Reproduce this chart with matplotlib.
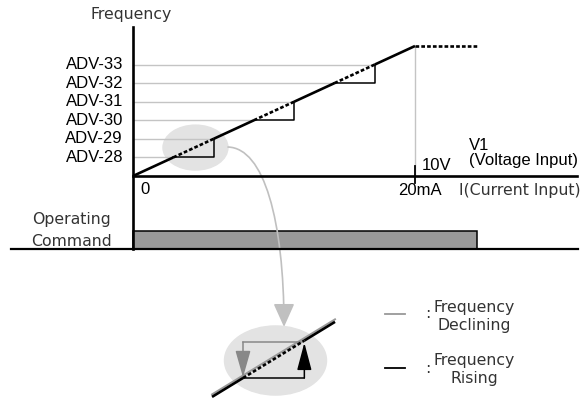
import matplotlib.pyplot as plt
from matplotlib.patches import Ellipse, Rectangle, FancyArrowPatch
from matplotlib.path import Path

# data
adv_labels = ['ADV-28', 'ADV-29', 'ADV-30', 'ADV-31', 'ADV-32', 'ADV-33']
adv_levels = [1, 2, 3, 4, 5, 6]
step_levels = [1, 3, 5]          # lower level of each rise step
max_level = 7
full_scale_ma = 20
run_end_ma = 24.4

# thin text font and arial-like font
thin = dict(family='DejaVu Sans', fontsize=11.3, color='#333333')
arial = dict(family='Liberation Sans', fontsize=12, color='black')

fig = plt.figure(figsize=(5.85, 4.01), dpi=100)
ax = fig.add_axes([0, 0, 1, 1])
ax.set_xlim(-9.433, 32.057)
ax.set_ylim(-12.115, 9.477)
ax.axis('off')

def cross(k):
    return k * full_scale_ma / max_level

# highlight ellipse
ax.add_patch(Ellipse((4.43, 1.53), 4.61, 2.42, color='#e3e3e3', zorder=0))

# grey level lines
for k in adv_levels:
    ax.plot([0, cross(k)], [k, k], color='#c4c4c4', lw=1.0, zorder=1)

# ramp: solid and dashed parts
ramp_pts = [0] + [cross(k) for s in step_levels for k in (s, s + 1)] + [full_scale_ma]
for i in range(len(ramp_pts) - 1):
    x0, x1 = ramp_pts[i], ramp_pts[i + 1]
    y0, y1 = x0 * max_level / full_scale_ma, x1 * max_level / full_scale_ma
    ls = '-' if i % 2 == 0 else (0, (1.4, 0.8))
    ax.plot([x0, x1], [y0, y1], color='black', lw=1.9, ls=ls, zorder=3,
            solid_capstyle='butt')
ax.plot([full_scale_ma, run_end_ma], [max_level, max_level], color='black',
        lw=1.9, ls=(0, (1.4, 0.8)), zorder=3)

# black steps
for s in step_levels:
    ax.plot([cross(s), cross(s + 1), cross(s + 1)], [s, s, s + 1],
            color='black', lw=1.1, zorder=2)

# full scale marker
ax.plot([full_scale_ma, full_scale_ma], [0, max_level], color='#c4c4c4', lw=1.0, zorder=1)
ax.plot([full_scale_ma, full_scale_ma], [0.54, -0.38], color='black', lw=1.3, zorder=3)

# axes
ax.plot([0, 0], [8.02, -3.93], color='black', lw=1.9, zorder=4)
ax.plot([0, 31.5], [0, 0], color='black', lw=1.9, zorder=4)

# operating command bar
ax.add_patch(Rectangle((0, -3.93), run_end_ma, 0.97, facecolor='#999999',
                       edgecolor='black', lw=1.1, zorder=2))
ax.plot([-8.65, 31.56], [-3.93, -3.93], color='black', lw=1.6, zorder=4)

# labels
ax.text(-0.14, 8.67, 'Frequency', ha='center', va='center', **thin)
for k, lab in zip(adv_levels, adv_labels):
    ax.text(-0.71, k, lab, ha='right', va='center', **arial)
ax.text(0.5, -0.75, '0', ha='left', va='center', **arial)
ax.text(20.5, 0.32, '10V', ha='left', va='baseline', **arial)
ax.text(23.83, 1.42, 'V1', ha='left', va='baseline', **arial)
ax.text(23.83, 0.6, '(Voltage Input)', ha='left', va='baseline', **arial)
ax.text(20.35, -0.4, '20mA', ha='center', va='top', **arial)
ax.text(23.1, -0.4, 'I(Current Input)', ha='left', va='top', **thin)
ax.text(-4.4, -2.32, 'Operating', ha='center', va='center', **thin)
ax.text(-4.4, -3.5, 'Command', ha='center', va='center', **thin)

# curved arrow to zoom
curve = Path([(6.74, 1.56), (9.3, 1.5), (10.7, -2.4), (10.71, -8.13)],
             [Path.MOVETO, Path.CURVE4, Path.CURVE4, Path.CURVE4])
ax.add_patch(FancyArrowPatch(path=curve, arrowstyle='-|>,head_length=1.45,head_width=0.65',
                             mutation_scale=10, color='#c0c0c0', lw=1.2, zorder=2))

# legend
ax.plot([17.87, 19.29], [-7.43, -7.43], color='#999999', lw=1.3)
ax.plot([17.87, 19.29], [-10.34, -10.34], color='black', lw=1.3)
ax.text(20.92, -7.43, ':', ha='center', va='center', **thin)
ax.text(20.92, -10.34, ':', ha='center', va='center', **thin)
ax.text(24.2, -7.32, 'Frequency', ha='center', va='baseline', **thin)
ax.text(24.2, -8.29, 'Declining', ha='center', va='baseline', **thin)
ax.text(24.2, -10.18, 'Frequency', ha='center', va='baseline', **thin)
ax.text(24.2, -11.15, 'Rising', ha='center', va='baseline', **thin)

# zoomed step detail
zx = fig.add_axes([200 / 585, 0, 150 / 585, 91 / 401])
zx.set_xlim(-0.729, 1.814)
zx.set_ylim(-0.639, 1.889)
zx.axis('off')
zx.patch.set_alpha(0)
zx.add_patch(Ellipse((0.551, 0.486), 1.73, 1.92, color='#e3e3e3', zorder=0))
zx.plot([-0.525, 1.56], [-0.525 + 0.07, 1.56 + 0.07], color='#9a9a9a', lw=1.4, zorder=2)
zx.plot([-0.525, 0], [-0.525, 0], color='black', lw=1.9, zorder=3, solid_capstyle='butt')
zx.plot([0, 1.04], [0, 1.04], color='black', lw=1.9, ls=(0, (1.4, 0.8)), zorder=3)
zx.plot([1.04, 1.56], [1.04, 1.56], color='black', lw=1.9, zorder=3, solid_capstyle='butt')
zx.plot([1.0, 0], [1.0, 1.0], color='#888888', lw=1.1, zorder=2)
zx.plot([0, 1.04], [0, 0], color='black', lw=1.1, zorder=2)
zx.add_patch(FancyArrowPatch((0, 1.0), (0, 0.02), arrowstyle='-|>,head_length=1.65,head_width=0.47',
                             mutation_scale=10, color='#888888', lw=1.1, shrinkA=0, shrinkB=0, zorder=2))
zx.add_patch(FancyArrowPatch((1.04, 0), (1.04, 0.98), arrowstyle='-|>,head_length=1.7,head_width=0.45',
                             mutation_scale=10, color='black', lw=1.1, shrinkA=0, shrinkB=0, zorder=2))

fig.savefig('out.png', dpi=100)
